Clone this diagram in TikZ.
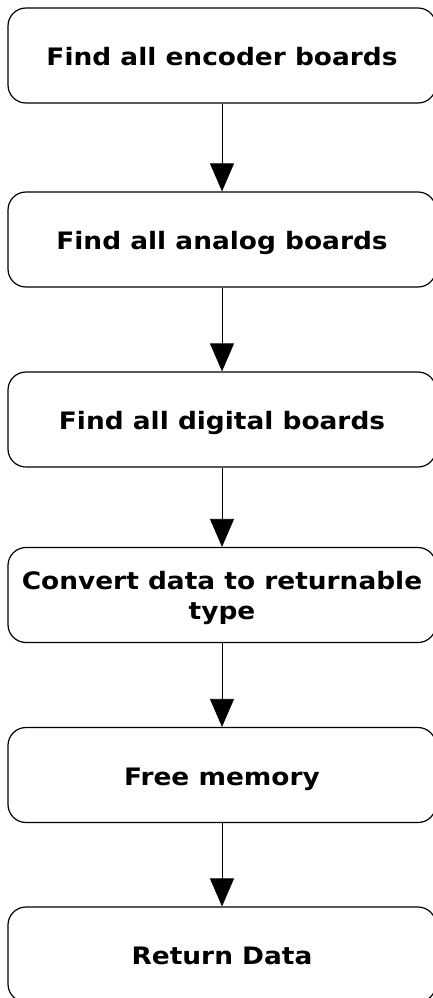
\documentclass[tikz,border=0pt]{standalone}
\usepackage{fontspec}
\setmainfont[FakeStretch=1.1]{DejaVu Sans}
\usetikzlibrary{arrows.meta}

\begin{document}
\begin{tikzpicture}[x=1pt,y=1pt,
  stage/.style={draw, line width=1.2pt, rounded corners=18pt,
    minimum width=428pt, minimum height=95pt, inner sep=0pt,
    font=\bfseries\fontsize{24}{30}\selectfont, align=center,
    text depth=0pt},
  oneline/.style={text height=20pt},
  flow/.style={-{Triangle[width=24pt,length=28pt]}, line width=0.8pt}]
  \useasboundingbox (0,0) rectangle (432,-998);
  \node[stage,oneline](encoder) at (222,-55.5){Find all encoder boards};
  \node[stage,oneline](analog) at (222,-239.5){Find all analog boards};
  \node[stage,oneline](digital) at (222,-419.5){Find all digital boards};
  \node[stage](convert) at (222,-595){Convert data to returnable\\type};
  \node[stage,oneline](free) at (222,-775){Free memory};
  \node[stage,oneline](result) at (222,-954.5){Return Data};
  \draw[flow](encoder)--(analog);
  \draw[flow](analog)--(digital);
  \draw[flow](digital)--(convert);
  \draw[flow](convert)--(free);
  \draw[flow](free)--(result);
\end{tikzpicture}
\end{document}
